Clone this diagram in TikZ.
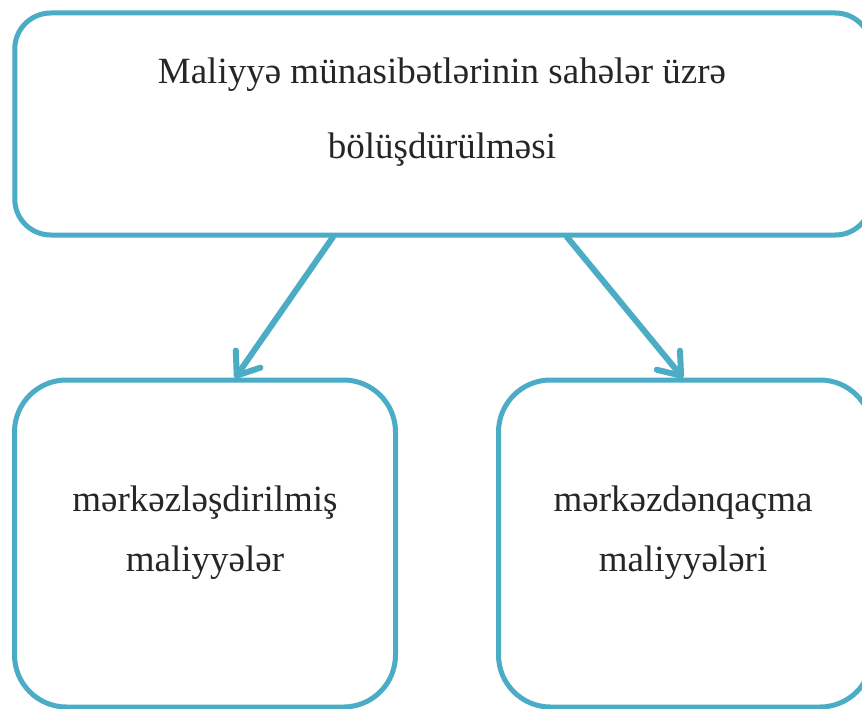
\documentclass[tikz,border=0pt]{standalone}
\usepackage{fontspec}
\setmainfont{Liberation Serif}
\usetikzlibrary{arrows.meta}
\definecolor{aqua}{RGB}{75,172,198}
\tikzset{
  box/.style={draw=aqua, line width=5pt, inner sep=0pt, fill=white},
  conn/.style={draw=aqua, line width=6pt, line cap=round,
    -{Straight Barb[length=20pt,width=30pt,round]}},
  txt/.style={anchor=base, inner sep=0pt, font=\fontsize{37}{44}\selectfont, text=black!85}
}
\begin{document}
\begin{tikzpicture}[x=1pt,y=-1pt]
\clip (0,0) rectangle (862,709);
\fill[white] (0,0) rectangle (862,709);
\node[box, rounded corners=36pt, minimum width=856.5pt, minimum height=222pt] (top) at (443,124) {};
\node[box, rounded corners=52pt, minimum width=381pt, minimum height=327pt] (left) at (205,543.5) {};
\node[box, rounded corners=52pt, minimum width=373.5pt, minimum height=327pt] (right) at (685.25,543.5) {};
\node[txt] (t1) at (442,83) {Maliyyə münasibətlərinin sahələr üzrə};
\node[txt] (t2) at (442,158) {bölüşdürülməsi};
\node[txt] (l1) at (205,511) {mərkəzləşdirilmiş};
\node[txt] (l2) at (205,571) {maliyyələr};
\node[txt] (r1) at (683,511) {mərkəzdənqaçma};
\node[txt] (r2) at (683,571) {maliyyələri};
\coordinate (a1) at (333,237);
\coordinate (b1) at (235,378);
\coordinate (a2) at (567,237);
\coordinate (b2) at (683,378);
\draw[conn] (a1) -- (b1);
\draw[conn] (a2) -- (b2);
\end{tikzpicture}
\end{document}
